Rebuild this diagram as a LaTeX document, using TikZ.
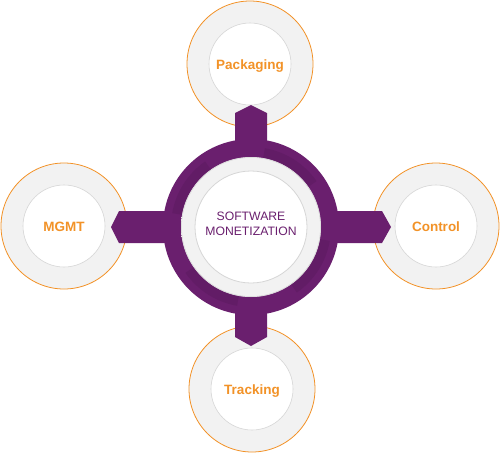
\documentclass[tikz,border=0pt]{standalone}
\usepackage{fontspec}
\setmainfont{Liberation Sans}
\definecolor{mpurple}{HTML}{6A1F6E}
\definecolor{mpurpledark}{HTML}{621C66}
\definecolor{morange}{HTML}{F29227}
\definecolor{ringgray}{HTML}{EDEDED}
\definecolor{ringlight}{HTML}{F2F2F2}
\definecolor{ringdark}{HTML}{E3E3E3}
\definecolor{linegray}{HTML}{D6D6D6}
\pgfdeclareradialshading{ringshade}{\pgfpoint{0bp}{0bp}}{color(0bp)=(ringlight); color(33bp)=(ringlight); color(45bp)=(ringgray); color(50bp)=(ringdark)}
\begin{document}
\begin{tikzpicture}[x=1pt,y=-1pt,
  outerring/.style={circle, minimum size=126pt, inner sep=0pt, draw=morange, line width=0.8pt, shading=ringshade},
  innerdisc/.style={circle, minimum size=82pt, inner sep=0pt, draw=linegray, line width=0.6pt, fill=white},
  labeltext/.style={anchor=base, inner sep=0pt, font=\fontsize{13.5}{15}\selectfont\bfseries, text=morange},
  hubtext/.style={align=center, text=mpurple, font=\fontsize{12.2}{15}\selectfont}
]
\useasboundingbox (0,0) rectangle (501,453);
% outer satellite rings
\node[outerring] (pkgring) at (250,64) {};
\node[outerring] (mgmtring) at (64,226) {};
\node[outerring] (ctrlring) at (436,226) {};
\node[outerring] (trkring) at (252,389) {};
\node[innerdisc] (pkgdisc) at (pkgring.center) {};
\node[innerdisc] (mgmtdisc) at (mgmtring.center) {};
\node[innerdisc] (ctrldisc) at (ctrlring.center) {};
\node[innerdisc] (trkdisc) at (trkring.center) {};
\node[labeltext] (pkg) at ([yshift=-5pt]pkgdisc.center) {Packaging};
\node[labeltext] (mgmt) at ([yshift=-5pt]mgmtdisc.center) {MGMT};
\node[labeltext] (ctrl) at ([yshift=-5pt]ctrldisc.center) {Control};
\node[labeltext] (trk) at ([yshift=-5pt]trkdisc.center) {Tracking};
% hub
\coordinate (hub) at (251,227);
\begin{scope}[shift={(hub)}]
  \fill[mpurple] (0,0) circle[radius=88];
  % arrows
  \fill[mpurple] (-16,-70) -- (-16,-114) -- (0,-122) -- (16,-114) -- (16,-70) -- cycle;
  \fill[mpurple] (-16,70) -- (-16,110) -- (0,119) -- (16,110) -- (16,70) -- cycle;
  \fill[mpurple] (-70,-16) -- (-132,-16) -- (-140,0) -- (-132,16) -- (-70,16) -- cycle;
  \fill[mpurple] (70,-16) -- (131,-16) -- (140,0) -- (131,16) -- (70,16) -- cycle;
  % subtle darker bands inside the ring
  \foreach \a in {0,90,180,270}{
    \fill[mpurpledark, rotate=\a] (100:70) arc[start angle=100, end angle=145, radius=70]
      -- (145:80) arc[start angle=145, end angle=100, radius=80] -- cycle;
  }
  % gray ring and white disc
  \shade[shading=ringshade] (0,0) circle[radius=70];
  \draw[linegray, line width=0.5pt] (0,0) circle[radius=69.5];
  \fill[white] (0,0) circle[radius=56];
  \draw[linegray, line width=0.8pt] (0,0) circle[radius=56];
\end{scope}
\node[hubtext] (core) at (251,224) {SOFTWARE\\MONETIZATION};
\end{tikzpicture}
\end{document}
